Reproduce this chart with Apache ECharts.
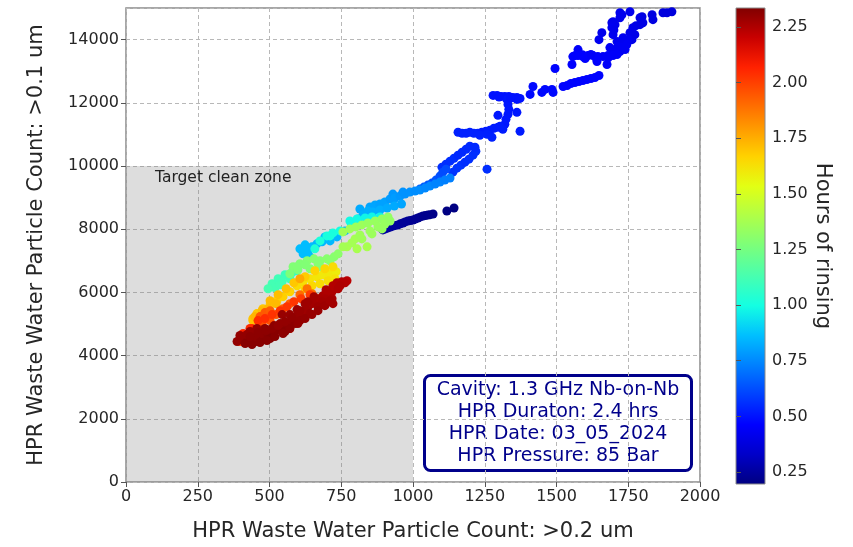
<!DOCTYPE html>
<html>
<head>
<meta charset="utf-8">
<script src="https://cdn.jsdelivr.net/npm/echarts@6/dist/echarts.min.js"></script>
<style>
html,body{margin:0;padding:0;background:#fff;}
#chart{width:853px;height:547px;}
</style>
</head>
<body>
<div id="chart"></div>
<script>
// Each run: [count >0.2 um, count >0.1 um, hours of rinsing]
const navyRun = [
  [1143,8671,0.20],[1118,8576,0.20],[1070,8482,0.21],[1060,8460,0.21],[1052,8450,0.21],[1043,8430,0.22],
  [1035,8418,0.22],[1026,8390,0.22],[1017,8355,0.22],[1008,8320,0.23],[1000,8292,0.23],[991,8275,0.23],
  [982,8261,0.23],[973,8230,0.24],[965,8198,0.24],[956,8170,0.24],[948,8135,0.24],[939,8120,0.25],
  [930,8103,0.25],[921,8070,0.25],[913,8040,0.25],[904,8010,0.26],[895,7977,0.26]
];
const peakRun = [
  [1902,14882,0.38],[1885,14851,0.38],[1871,14851,0.38],[1836,14630,0.39],[1833,14788,0.39],[1798,14725,0.39],
  [1791,14693,0.40],[1801,14535,0.40],[1791,14472,0.40],[1777,14441,0.40],[1766,14378,0.41],[1773,14157,0.41],
  [1756,14220,0.41],[1763,13999,0.41],[1756,14882,0.42],[1721,14851,0.42],[1728,14788,0.42],[1721,14693,0.42],
  [1697,14567,0.42],[1693,14535,0.42],[1704,14472,0.42],[1693,14378,0.43],[1697,14157,0.43],[1732,14062,0.43],
  [1749,13999,0.43],[1711,13936,0.43],[1735,13905,0.43],[1745,13842,0.44],[1714,13779,0.44],[1686,13747,0.44],
  [1704,13684,0.44],[1739,13684,0.44],[1721,13621,0.44],[1693,13526,0.44],[1658,14220,0.42],[1648,13999,0.43],
  [1700,14300,0.42],[1725,13750,0.44],[1708,13620,0.44]
];
const ridgeRun = [
  [1711,13526,0.45],[1697,13495,0.45],[1679,13495,0.45],[1662,13463,0.45],[1644,13463,0.45],[1627,13495,0.45],
  [1610,13495,0.46],[1592,13463,0.46],[1575,13495,0.46],[1557,13463,0.46],[1575,13684,0.45],[1554,13211,0.46],
  [1676,13211,0.45],[1641,13306,0.45],[1600,13400,0.46],[1640,13390,0.46],[1680,13420,0.45],
  [1620,13530,0.45],[1590,13520,0.46],[1565,13500,0.46],
  [1648,12864,0.47],[1634,12801,0.47],[1620,12770,0.47],[1606,12738,0.47],[1592,12706,0.47],[1578,12675,0.47],
  [1564,12643,0.47],[1550,12612,0.47],[1537,12549,0.47],[1523,12517,0.47],
  [1408,12265,0.48],[1418,12517,0.48],[1449,12328,0.48],[1460,12423,0.48],[1484,12423,0.48],[1488,12328,0.48],
  [1495,13085,0.47]
];
const shoulderRun = [
  [1279,12234,0.50],[1293,12234,0.50],[1307,12202,0.50],[1320,12202,0.50],[1334,12202,0.50],[1348,12171,0.50],
  [1362,12171,0.50],[1373,12139,0.50],[1362,12108,0.50],[1327,12108,0.51],[1331,11950,0.51],[1334,11792,0.51],
  [1331,11635,0.51],[1324,11477,0.51],[1320,11319,0.51],[1313,11162,0.52],[1362,11698,0.51],[1296,11603,0.51],
  [1373,11099,0.52],[1300,12180,0.50],[1340,12150,0.50],
  [1157,11067,0.53],[1171,11036,0.53],[1185,11036,0.53],[1198,11067,0.53],[1212,11036,0.53],[1226,11036,0.53],
  [1240,11067,0.52],[1254,11099,0.52],[1268,11130,0.52],[1282,11193,0.52],[1296,11225,0.52],[1303,11256,0.52],
  [1258,11004,0.53],[1275,10909,0.53],[1233,10972,0.53]
];
const loopRun = [
  [1101,9963,0.56],[1115,10058,0.56],[1129,10153,0.56],[1143,10247,0.56],[1157,10342,0.55],[1171,10436,0.55],
  [1185,10531,0.55],[1198,10626,0.55],
  [1139,9806,0.57],[1153,9932,0.57],[1167,10027,0.57],[1181,10121,0.56],[1195,10216,0.56],[1209,10342,0.56],
  [1219,10468,0.56],[1216,10594,0.55],[1258,9900,0.56]
];
const descentRun = [
  [1024,9270,0.66],[1038,9333,0.65],[1052,9396,0.65],[1066,9459,0.64],[1080,9554,0.64],[1094,9680,0.63],
  [1104,9806,0.62],[1115,9900,0.62]
];
const skyRun = [
  [815,8639,0.82],[850,8702,0.81],[868,8765,0.81],[885,8797,0.80],[902,8860,0.80],[920,8955,0.79],
  [930,9112,0.78],[937,8986,0.79],[955,9049,0.78],[965,9175,0.77],[972,9112,0.77],[989,9175,0.77],
  [1007,9207,0.76],[1024,9238,0.76],[1042,9301,0.75],[1059,9364,0.75],[1077,9427,0.74],[1094,9490,0.74],
  [1111,9554,0.73],[1129,9617,0.73],
  [860,8545,0.83],[885,8608,0.83],[910,8671,0.82],[935,8734,0.82],[960,8797,0.81],
  [617,7220,0.86],[634,7315,0.86],[648,7441,0.86],[665,7536,0.85],[683,7599,0.85],[711,7630,0.85],
  [641,7126,0.86],[735,7756,0.85],[763,7945,0.84],[787,8135,0.84],[808,8324,0.84],[826,8450,0.83],
  [843,8576,0.83],[606,7378,0.86],[624,7504,0.86],[693,7756,0.85]
];
const cyanRun = [
  [676,7630,1.02],[700,7788,1.01],[721,7882,1.01],[746,7945,1.00],[780,8261,0.99],[805,8324,0.99],
  [833,8355,0.98],[857,8387,0.98],[885,8387,0.97],[711,7788,1.01],[658,7378,1.03],
  [509,6274,1.12],[530,6432,1.11],[554,6558,1.10],[578,6621,1.09],[519,6148,1.12],[544,6337,1.11],
  [596,6684,1.08],[495,6117,1.13],[537,6242,1.12],[571,6432,1.11]
];
const greenRun = [
  [756,7914,1.36],[780,8009,1.36],[801,8072,1.35],[822,8135,1.35],[843,8198,1.34],[868,8261,1.34],
  [892,8324,1.33],[913,8387,1.33],[770,7441,1.38],[805,7378,1.38],[840,7441,1.38],[798,7693,1.37],
  [815,7819,1.36],[850,7945,1.35],[878,8072,1.34],[902,8166,1.34],
  [582,6810,1.28],[606,6905,1.28],[631,7000,1.29],[655,7063,1.29],[676,7000,1.29],[700,7063,1.30],
  [725,7126,1.30],[641,6747,1.28],[676,6810,1.29],[599,6716,1.27],
  [571,6590,1.27],[596,6810,1.28],[624,6873,1.28],[669,6905,1.29],[711,7000,1.30],[739,7220,1.31],
  [756,7441,1.37],[787,7567,1.37],[822,7693,1.36],[857,7851,1.35],[892,8009,1.34],[920,8261,1.33]
];
const yellowRun = [
  [596,6211,1.64],[617,6337,1.63],[641,6432,1.62],[665,6495,1.61],[686,6558,1.60],[711,6590,1.60],
  [732,6653,1.59],[624,6117,1.66],[648,6211,1.65],[676,6274,1.64],[704,6369,1.63],[728,6432,1.62],
  [571,6022,1.66],[547,5865,1.67],[526,5739,1.67],[502,5612,1.68],[477,5486,1.69],[456,5329,1.69],
  [442,5171,1.70],[442,5108,1.70],[474,5234,1.70],
  [474,5423,1.72],[502,5739,1.72],[530,5928,1.71],[558,6117,1.70],[585,6306,1.69],[624,6495,1.68],
  [658,6684,1.66],[693,6747,1.65],[721,6810,1.64],[449,5234,1.73],[495,5486,1.73],[523,5644,1.72]
];
const orangeRun = [
  [606,6432,1.76],[467,5234,1.95],[484,5360,1.94],[502,5423,1.93],[523,5297,1.95],[547,5486,1.92],
  [474,5013,1.97],[502,5108,1.96],[631,6117,1.88],[648,5959,1.90],[669,5802,1.92],[606,5928,1.90],
  [571,5644,1.92],[415,4540,2.00],[397,4446,2.01],[571,4856,2.02],[537,4919,2.02],[449,4761,2.03],
  [439,4856,2.04],
  [460,5108,2.04],[484,5171,2.04],[509,5297,2.03],[537,5423,2.03],[561,5549,2.02],[585,5707,2.02],
  [610,5802,2.01],[641,5928,2.01],[432,4856,2.05],[408,4698,2.06]
];
const maroonRun = [
  [387,4446,2.30],[404,4540,2.30],[422,4446,2.31],[439,4509,2.31],[456,4446,2.31],[474,4540,2.32],
  [397,4635,2.30],[422,4667,2.30],[449,4635,2.31],[474,4698,2.31],[495,4667,2.32],[512,4761,2.32],
  [502,4540,2.33],[530,4824,2.32],[547,4856,2.32],[537,5013,2.30],[561,4982,2.31],[578,5108,2.30],
  [592,5234,2.29],[606,5329,2.29],[624,5423,2.28],[634,5549,2.28],[648,5644,2.27],[662,5739,2.27],
  [676,5802,2.26],[686,5896,2.26],[700,5959,2.25],[718,6022,2.25],[718,5802,2.26],[721,5644,2.27],
  [735,6306,2.24],[752,6337,2.24],[770,6369,2.23],[721,6211,2.24],[693,5802,2.26],[683,5707,2.27],
  [484,4856,2.31],[456,4856,2.30],[432,4761,2.30],[516,4950,2.31],[571,5297,2.29],[596,5455,2.29],
  [624,5644,2.28],[589,5013,2.31],[554,4761,2.32],[606,5108,2.30],[641,5329,2.29],[669,5549,2.28],
  [544,5297,2.29],
  [415,4383,2.32],[439,4351,2.32],[467,4414,2.32],[491,4477,2.32],[519,4603,2.32],[547,4698,2.31],
  [571,4856,2.31],[599,5013,2.30],[624,5171,2.30],[648,5297,2.29],[669,5423,2.29],[693,5581,2.28],
  [711,5739,2.27],[739,6117,2.25],[763,6306,2.24],[432,4603,2.31],[460,4730,2.31],[488,4793,2.31],
  [509,4856,2.31],[530,4950,2.30],[554,5076,2.30],[578,5203,2.30],[606,5423,2.29],[634,5707,2.28],
  [655,5865,2.27],[746,6211,2.25],[697,6085,2.25]
];

const xTicks = [0, 250, 500, 750, 1000, 1250, 1500, 1750, 2000];
const yTicks = [0, 2000, 4000, 6000, 8000, 10000, 12000, 14000];
const hourTicks = [0.25, 0.5, 0.75, 1.0, 1.25, 1.5, 1.75, 2.0, 2.25];
const hourRange = [0.196, 2.335];
const cleanZone = { x: [0, 1000], y: [0, 10000], label: 'Target clean zone' };
const infoLines = ['Cavity: 1.3 GHz Nb-on-Nb', 'HPR Duraton: 2.4 hrs', 'HPR Date: 03_05_2024', 'HPR Pressure: 85 Bar'];

// jet colour map, sampled at sixteenths
const jet = ['#000080','#0000c8','#0000ff','#0040ff','#0080ff','#00bfff','#14ffe2','#48ffaf','#7bff7b',
             '#afff48','#e2ff14','#ffd200','#ff9700','#ff5c00','#ff2100','#c80000','#800000'];

const points = [navyRun, peakRun, ridgeRun, shoulderRun, loopRun, descentRun, skyRun,
                cyanRun, greenRun, yellowRun, orangeRun, maroonRun].flat();

const FONT = 'DejaVu Sans';
const TXT = '#262626';
const FRAME = '#8a8a8a';

const chart = echarts.init(document.getElementById('chart'));

const barGradient = new echarts.graphic.LinearGradient(0, 0, 0, 1,
  jet.slice().reverse().map((c, i) => ({ offset: i / (jet.length - 1), color: c })));

const plain = v => String(v);

chart.setOption({
  animation: false,
  textStyle: { fontFamily: FONT },
  grid: [
    { left: 126, top: 8, width: 574, height: 476, show: true, borderColor: FRAME, borderWidth: 1.5, backgroundColor: 'transparent' },
    { left: 736, top: 8, width: 29, height: 476, show: true, borderColor: FRAME, borderWidth: 1, backgroundColor: barGradient }
  ],
  xAxis: [
    {
      gridIndex: 0, type: 'value', min: xTicks[0], max: xTicks[xTicks.length - 1], interval: 250,
      name: 'HPR Waste Water Particle Count: >0.2 um', nameLocation: 'middle', nameGap: 39,
      nameTextStyle: { fontSize: 21, color: TXT, fontFamily: FONT },
      axisLine: { show: false },
      axisTick: { show: true, inside: false, length: 5, lineStyle: { color: '#555' } },
      axisLabel: { fontSize: 16, color: TXT, margin: 7, fontFamily: FONT, formatter: plain },
      splitLine: { show: true, lineStyle: { color: '#b8b8b8', type: [4, 3], width: 1 } }
    },
    { gridIndex: 1, type: 'value', min: 0, max: 1, show: false }
  ],
  yAxis: [
    {
      gridIndex: 0, type: 'value', min: yTicks[0], max: 15000, interval: 2000,
      name: 'HPR Waste Water Particle Count: >0.1 um', nameLocation: 'middle', nameGap: 79,
      nameTextStyle: { fontSize: 21, color: TXT, fontFamily: FONT },
      axisLine: { show: false },
      axisTick: { show: true, inside: false, length: 5, lineStyle: { color: '#555' } },
      axisLabel: { fontSize: 16, color: TXT, margin: 7, fontFamily: FONT, showMaxLabel: false, formatter: plain },
      splitLine: { show: true, lineStyle: { color: '#b8b8b8', type: [4, 3], width: 1 } }
    },
    {
      gridIndex: 1, type: 'value', position: 'right', min: hourRange[0], max: hourRange[1],
      name: 'Hours of rinsing', nameLocation: 'middle', nameRotate: -90, nameGap: 45,
      nameTextStyle: { fontSize: 21, color: TXT, fontFamily: FONT },
      axisLine: { show: false },
      splitLine: { show: false },
      axisTick: { show: true, length: 5, customValues: hourTicks, lineStyle: { color: '#555' } },
      axisLabel: { fontSize: 16, color: TXT, margin: 7, fontFamily: FONT, customValues: hourTicks,
                   formatter: v => v.toFixed(2) }
    }
  ],
  visualMap: {
    show: false, type: 'continuous', dimension: 2, seriesIndex: 0,
    min: hourRange[0], max: hourRange[1], inRange: { color: jet }
  },
  series: [{
    type: 'scatter', xAxisIndex: 0, yAxisIndex: 0,
    symbolSize: 9, data: points,
    itemStyle: { opacity: 1 },
    markArea: {
      silent: true,
      itemStyle: { color: 'rgba(128,128,128,0.27)' },
      label: { show: true, position: [29, 4], fontSize: 15.5, color: '#222', fontFamily: FONT },
      data: [[
        { name: cleanZone.label, coord: [cleanZone.x[0], cleanZone.y[0]] },
        { coord: [cleanZone.x[1], cleanZone.y[1]] }
      ]]
    }
  }],
  graphic: [{
    type: 'group', left: 423, top: 374,
    children: [
      { type: 'rect', shape: { x: 0, y: 0, width: 267, height: 95, r: 6 },
        style: { fill: '#fff', stroke: '#00008b', lineWidth: 3 } },
      { type: 'text', x: 133.5, y: 47.5,
        style: { text: infoLines.join('\n'), fill: '#00008b', font: '19px "DejaVu Sans"',
                 align: 'center', verticalAlign: 'middle', lineHeight: 22 } }
    ]
  }]
});
</script>
</body>
</html>
